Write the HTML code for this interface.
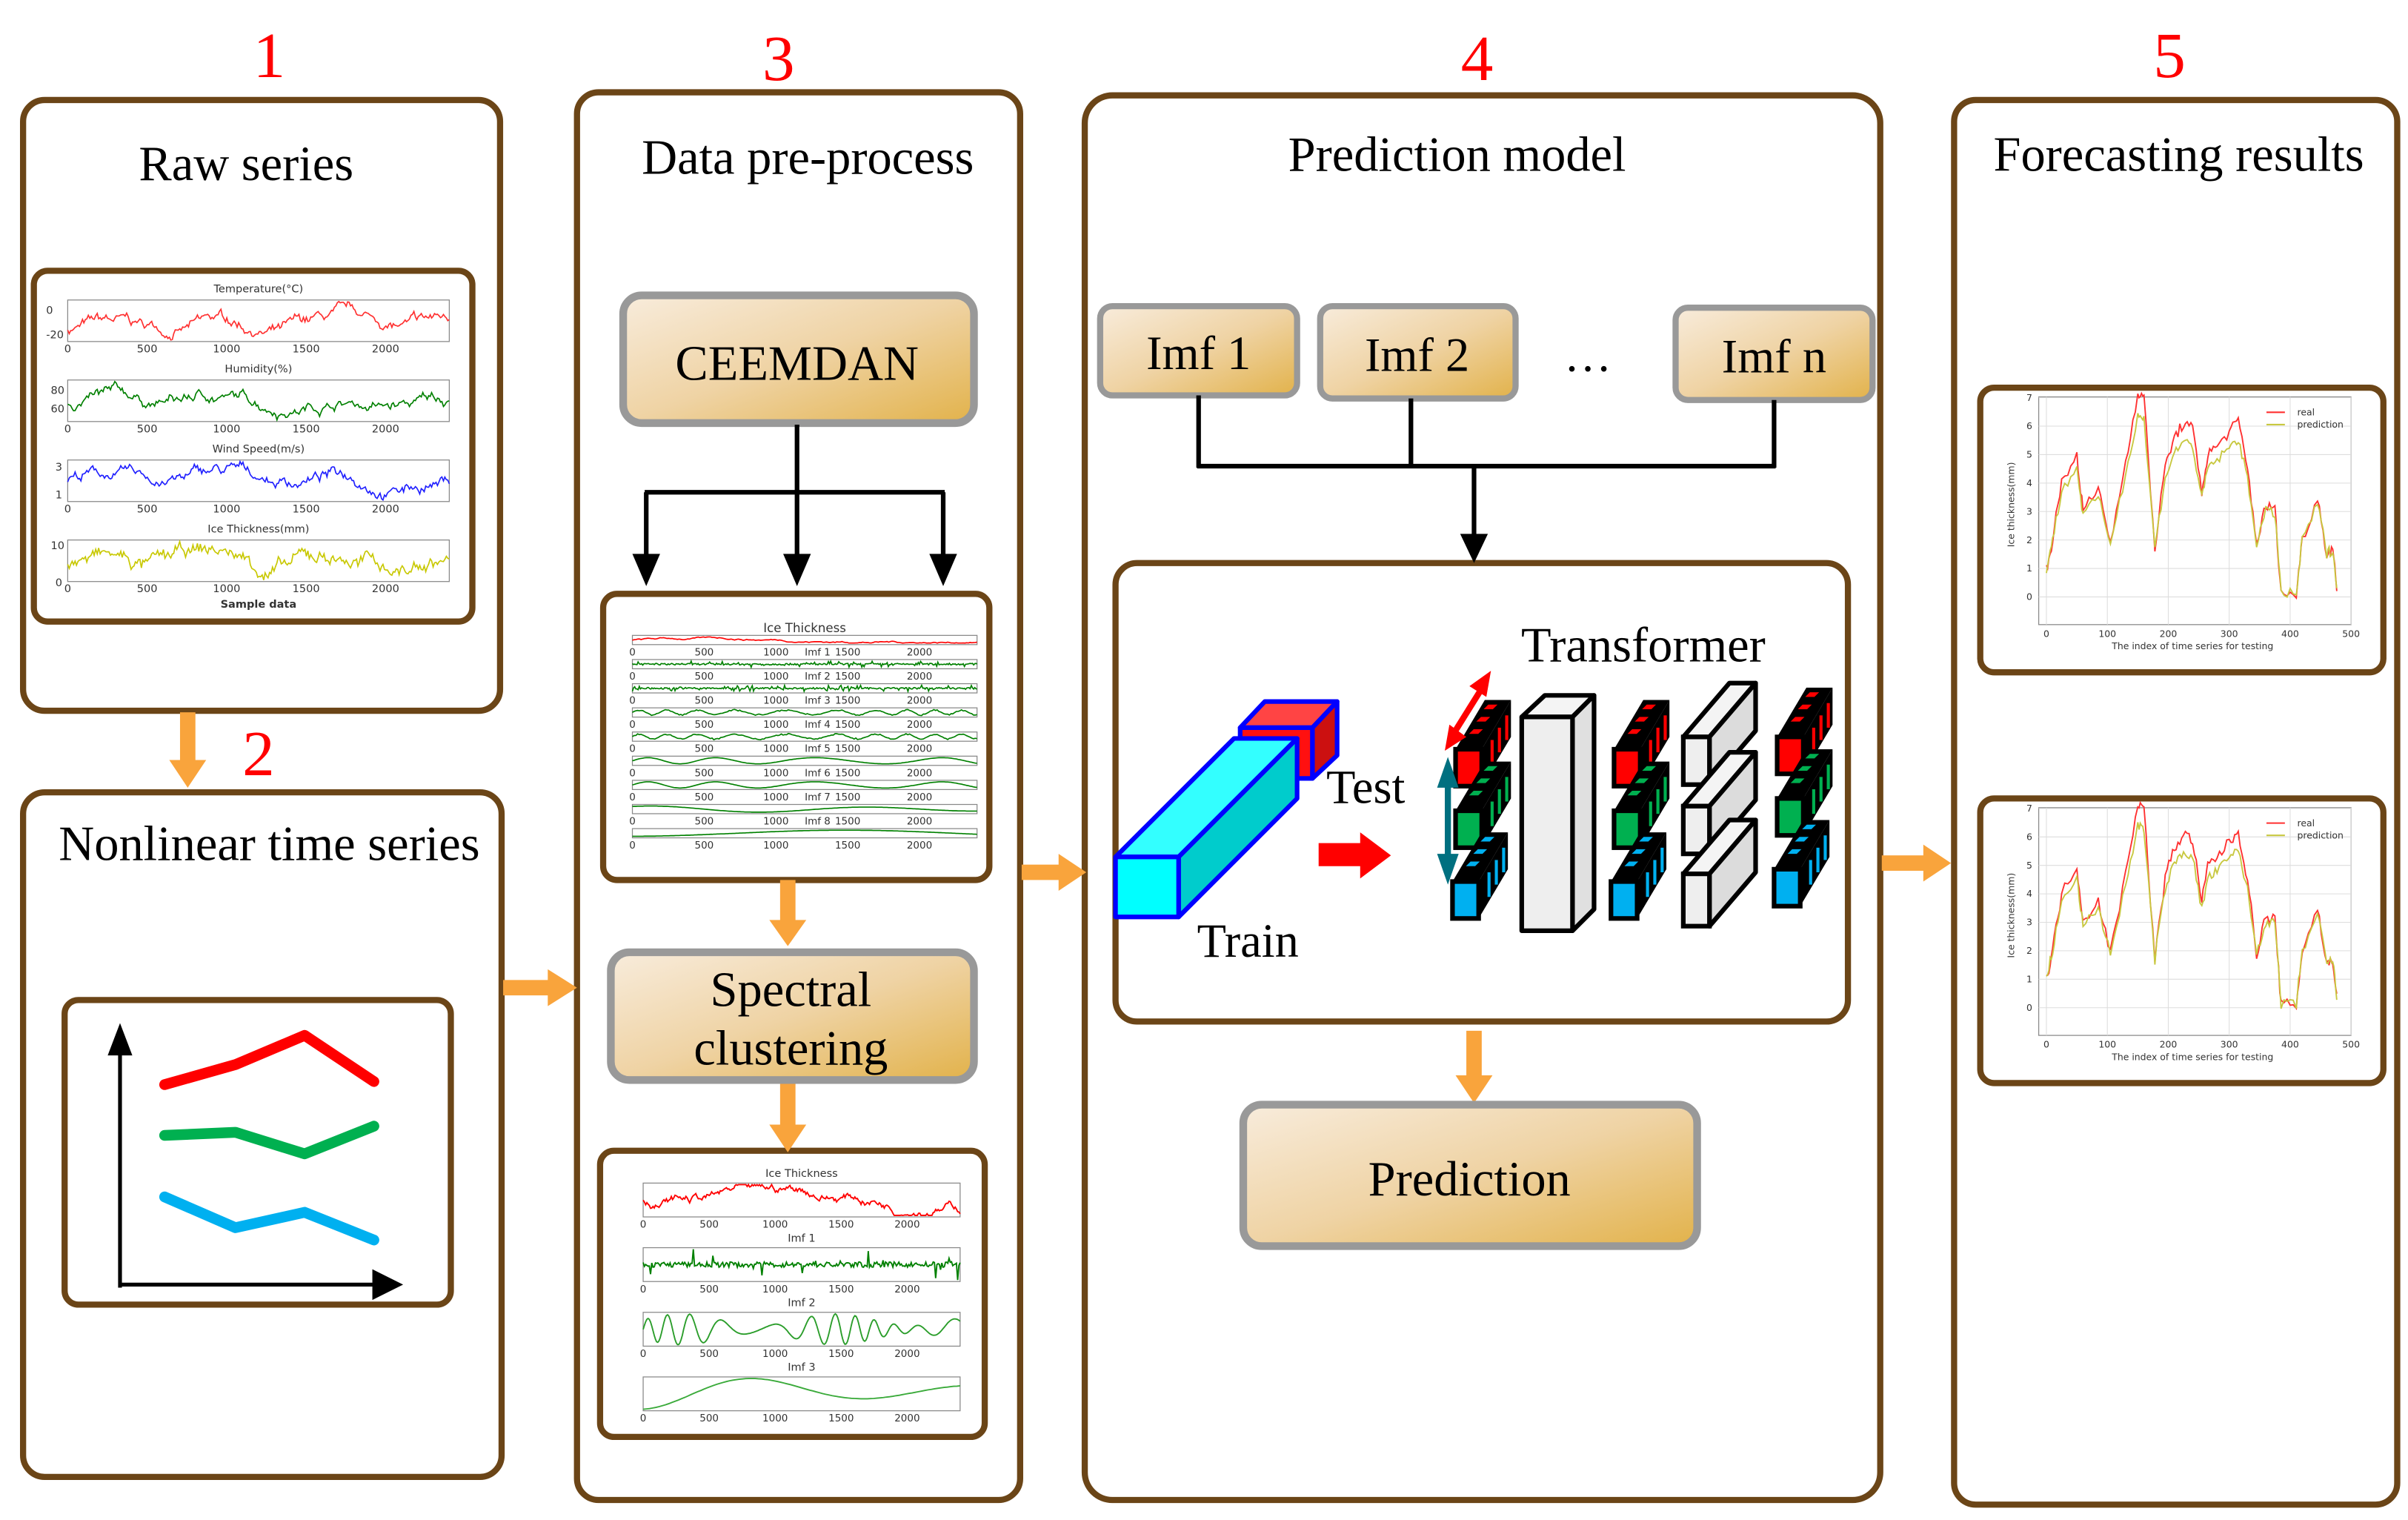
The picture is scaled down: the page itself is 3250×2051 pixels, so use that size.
<!DOCTYPE html>
<html><head><meta charset="utf-8"><style>
html,body{margin:0;padding:0;background:#fff;}
svg{display:block;}
.t{font-family:"Liberation Serif",serif;fill:#000;}
.s{font-family:"DejaVu Sans","Liberation Sans",sans-serif;fill:#333;}
</style></head><body>
<svg id="S" width="3250" height="2051" viewBox="0 0 1565 988" preserveAspectRatio="none" xmlns="http://www.w3.org/2000/svg">
<defs>
<linearGradient id="g" x1="0" y1="0" x2="1" y2="1">
<stop offset="0" stop-color="#f8ecdc"/><stop offset="0.5" stop-color="#efd3a4"/><stop offset="1" stop-color="#e2b24a"/>
</linearGradient>
</defs>
<g fill="none" stroke="#6b4517" stroke-width="4">
<rect x="15" y="65" width="310" height="397" rx="14"/>
<rect x="22" y="176" width="285" height="228" rx="9"/>
<rect x="15" y="515" width="311" height="445" rx="14"/>
<rect x="42" y="650" width="251" height="198" rx="9"/>
<rect x="375" y="60" width="288" height="915" rx="14"/>
<rect x="392" y="386" width="251" height="186" rx="9"/>
<rect x="390" y="748" width="250" height="186" rx="9"/>
<rect x="705" y="62" width="517" height="913" rx="18"/>
<rect x="725" y="366" width="476" height="298" rx="14"/>
<rect x="1270" y="65" width="288" height="913" rx="14"/>
<rect x="1287" y="252" width="262" height="185" rx="9"/>
<rect x="1287" y="519" width="262" height="185" rx="9"/>
</g>
<g fill="#ff0000" font-family="Liberation Serif,serif" font-size="42" text-anchor="middle">
<text x="175" y="50">1</text><text x="168" y="504">2</text><text x="506" y="52">3</text><text x="960" y="52">4</text><text x="1410" y="50">5</text>
</g>
<g class="t" font-size="32" text-anchor="middle">
<text x="160" y="117">Raw series</text>
<text x="175" y="559">Nonlinear time series</text>
<text x="525" y="113">Data pre-process</text>
<text x="947" y="111">Prediction model</text>
<text x="1416" y="111">Forecasting results</text>
</g>
<g fill="#f9a43c">
<rect x="117" y="463" width="10" height="32"/><polygon points="110,494 134,494 122,512"/>
<rect x="327" y="637" width="30" height="10"/><polygon points="356,630 356,654 375,642"/>
<rect x="507" y="572" width="10" height="28"/><polygon points="500,598 524,598 512,615"/>
<rect x="507" y="703" width="10" height="30"/><polygon points="500,731 524,731 512,749"/>
<rect x="664" y="562" width="25" height="10"/><polygon points="688,555 688,579 706,567"/>
<rect x="953" y="670" width="10" height="30"/><polygon points="946,699 970,699 958,717"/>
<rect x="1223" y="556" width="28" height="10"/><polygon points="1250,549 1250,573 1268,561"/>
</g>
<g stroke="#000" stroke-width="2.5" fill="none"><line x1="78" y1="682" x2="78" y2="837"/><line x1="78" y1="835" x2="245" y2="835"/></g>
<polygon points="78,665 70,686 86,686"/><polygon points="262,835 242,825 242,845"/>
<g fill="none" stroke-width="7" stroke-linecap="round" stroke-linejoin="round">
<polyline stroke="#ff0000" points="107,705 153,692 198,673 243,703"/>
<polyline stroke="#00b050" points="107,738 153,736 198,750 243,732"/>
<polyline stroke="#00b0f0" points="107,778 153,798 198,788 243,806"/>
</g>
<rect x="405" y="192" width="228" height="83" rx="12" fill="url(#g)" stroke="#999" stroke-width="5"/>
<text class="t" x="518" y="247" font-size="32" text-anchor="middle">CEEMDAN</text>
<g stroke="#000" stroke-width="3" fill="none"><line x1="518" y1="276" x2="518" y2="320"/><line x1="419" y1="320" x2="614" y2="320"/>
<line x1="420" y1="320" x2="420" y2="362"/><line x1="518" y1="320" x2="518" y2="362"/><line x1="613" y1="320" x2="613" y2="362"/></g>
<polygon points="411,360 429,360 420,381"/><polygon points="509,360 527,360 518,381"/><polygon points="604,360 622,360 613,381"/>
<rect x="397" y="619" width="236" height="83" rx="12" fill="url(#g)" stroke="#999" stroke-width="5"/>
<text class="t" x="514" y="654" font-size="32" text-anchor="middle">Spectral</text>
<text class="t" x="514" y="692" font-size="32" text-anchor="middle">clustering</text>
<g stroke="#999" stroke-width="4" fill="url(#g)">
<rect x="715" y="199" width="128" height="58" rx="8"/><rect x="858" y="199" width="127" height="60" rx="8"/><rect x="1089" y="200" width="128" height="60" rx="8"/>
</g>
<g class="t" font-size="31" text-anchor="middle"><text x="779" y="240">Imf 1</text><text x="921" y="241">Imf 2</text><text x="1153" y="242">Imf n</text><text x="1032" y="241">…</text></g>
<g stroke="#000" stroke-width="3" fill="none"><line x1="779" y1="257" x2="779" y2="304"/><line x1="917" y1="259" x2="917" y2="304"/><line x1="1153" y1="260" x2="1153" y2="304"/><line x1="778" y1="303" x2="1154" y2="303"/><line x1="958" y1="303" x2="958" y2="350"/></g>
<polygon points="949,347 967,347 958,366"/>
<g stroke="#0000ff" stroke-width="3" stroke-linejoin="round">
<polygon fill="#ff4444" points="806,473 822,456 869,456 853,473"/>
<rect x="806" y="473" width="47" height="33" fill="#ff1010"/>
<polygon fill="#cc1010" points="853,473 869,456 869,491 853,506"/>
<polygon fill="#33ffff" points="725,557 802,480 843,480 766,557"/>
<polygon fill="#00cccc" points="766,557 843,480 843,519 766,596"/>
<rect x="725" y="557" width="41" height="39" fill="#00ffff"/>
</g>
<text class="t" x="862" y="522" font-size="31">Test</text>
<text class="t" x="778" y="622" font-size="31">Train</text>
<polygon fill="#ff0000" points="857,548 884,548 884,541 904,556 884,571 884,563 857,563"/>
<text class="t" x="1068" y="430" font-size="32" text-anchor="middle">Transformer</text>
<g id="stacks"></g>
<g stroke="#000" stroke-width="3" stroke-linejoin="round">
<polygon fill="#f4f4f4" points="989,466 1004,452 1036,452 1022,466"/>
<polygon fill="#e0e0e0" points="1022,466 1036,452 1036,591 1022,605"/>
<rect x="989" y="466" width="33" height="139" fill="#eeeeee"/>
</g>
<g id="wb"></g>
<g stroke="#007080" stroke-width="4"><line x1="941" y1="505" x2="941" y2="560"/></g>
<polygon fill="#007080" points="941,492 934,512 948,512"/><polygon fill="#007080" points="941,575 934,555 948,555"/>
<g stroke="#ff0000" stroke-width="4"><line x1="944" y1="478" x2="964" y2="446"/></g>
<polygon fill="#ff0000" points="969,436 955,446 966,453"/><polygon fill="#ff0000" points="939,488 942,471 953,479"/>
<rect x="808" y="718" width="295" height="92" rx="12" fill="url(#g)" stroke="#999" stroke-width="5"/>
<text class="t" x="955" y="777" font-size="32" text-anchor="middle">Prediction</text>
<g id="charts"></g>
</svg>
<script>
var NS="http://www.w3.org/2000/svg";
function el(p,tag,a,txt){var e=document.createElementNS(NS,tag);for(var k in a)e.setAttribute(k,a[k]);if(txt!==undefined)e.textContent=txt;p.appendChild(e);return e;}
var C=document.getElementById('charts');
var seed=7;function rnd(){seed=(seed*16807)%2147483647;return seed/2147483647;}
function series(n,kind){var v=[];var a=0;for(var i=0;i<n;i++){var t=i/n;var y;
 if(kind=='rw'){a+= (rnd()-0.5)*0.5;a*=0.97;y=a+Math.sin(t*20)*0.3+(rnd()-0.5)*0.3;}
 else if(kind=='hf'){y=(rnd()-0.5)*(rnd()<0.2?2:0.5);}
 else if(kind=='w1'){y=Math.sin(t*60+Math.sin(t*7)*3)*(0.4+0.4*rnd());}
 else if(kind=='w1n'){y=(rnd()-0.5)*(0.4+(rnd()<0.08?2:0));}
 else if(kind=='w2'){y=Math.sin(t*25+Math.sin(t*5)*2)*0.8;}
 else if(kind=='w2n'){y=Math.sin(t*70+Math.sin(t*9)*4)*(0.5+0.3*Math.sin(t*13));}
 else if(kind=='w3'){y=Math.sin(t*10+1)*0.8*(1-t*0.5);}
 else if(kind=='w3b'){y=Math.sin(t*9-1.6)*Math.exp(-t*1.2)+0.1;}
 else if(kind=='w4'){y=Math.sin(t*5-1.5)*0.8;}
 else if(kind=='ice'){a+=(rnd()-0.5)*0.35;a=Math.max(-0.9,Math.min(0.9,a));y=a;}
 v.push(y);}return v;}
function plot(x,y,w,h,col,kind,n,sw){el(C,'rect',{x:x,y:y,width:w,height:h,fill:'none',stroke:'#888','stroke-width':0.6});
 var v=series(n,kind),mn=Math.min.apply(0,v),mx=Math.max.apply(0,v),p=[];
 for(var i=0;i<n;i++)p.push((x+i*w/(n-1)).toFixed(1)+','+(y+h-1-(v[i]-mn)/(mx-mn||1)*(h-2)).toFixed(1));
 el(C,'polyline',{points:p.join(' '),fill:'none',stroke:col,'stroke-width':sw||0.7});}
function ticks(x,y,w,fs,labs){for(var i=0;i<labs.length;i++)el(C,'text',{x:x+i*w*0.833/(labs.length-1),y:y,'font-size':fs,'text-anchor':'middle',class:'s'},labs[i]);}
var L=['0','500','1000','1500','2000'];
var t1=[['Temperature(°C)','#ff3030',190],['Humidity(%)','#008000',242],['Wind Speed(m/s)','#2020ff',294],['Ice Thickness(mm)','#c8c800',346]];
t1.forEach(function(r){el(C,'text',{x:168,y:r[2],'font-size':7,'text-anchor':'middle',class:'s'},r[0]);plot(44,r[2]+5,248,27,r[1],'rw',260,0.8);ticks(44,r[2]+39,248,7,L);});
el(C,'text',{x:30,y:204,'font-size':7,class:'s'},'0');el(C,'text',{x:30,y:220,'font-size':7,class:'s'},'-20');
el(C,'text',{x:33,y:256,'font-size':7,class:'s'},'80');el(C,'text',{x:33,y:268,'font-size':7,class:'s'},'60');
el(C,'text',{x:36,y:306,'font-size':7,class:'s'},'3');el(C,'text',{x:36,y:324,'font-size':7,class:'s'},'1');
el(C,'text',{x:33,y:357,'font-size':7,class:'s'},'10');el(C,'text',{x:36,y:381,'font-size':7,class:'s'},'0');
el(C,'text',{x:168,y:395,'font-size':7,'font-weight':'bold','text-anchor':'middle',class:'s'},'Sample data');
el(C,'text',{x:523,y:411,'font-size':8,'text-anchor':'middle',class:'s'},'Ice Thickness');
var kinds=['ice','hf','hf','w1','w1','w2','w2','w3','w4'];
for(var i=0;i<9;i++){var yy=413+i*15.7;plot(411,yy,224,6,i==0?'#ff0000':'#008000',kinds[i],kinds[i]=='hf'?300:200,0.8);ticks(411,yy+13,224,6.5,L);if(i<8)el(C,'text',{x:523,y:yy+13,'font-size':6.5,'text-anchor':'start',class:'s'},'Imf '+(i+1));}
var c2=[['Ice Thickness','#ff0000','ice',763],['Imf 1','#008000','w1n',805],['Imf 2','#2a9d2a','w2n',847],['Imf 3','#3aaa3a','w3b',889]];
c2.forEach(function(r){el(C,'text',{x:521,y:r[3]+2,'font-size':7,'text-anchor':'middle',class:'s'},r[0]);plot(418,r[3]+6,206,22,r[1],r[2],r[2]=='w3b'?100:260,0.9);ticks(418,r[3]+35,206,6.5,L);});
[258,525].forEach(function(y0){
 var x=1325,w=203,h=148;el(C,'rect',{x:x,y:y0,width:w,height:h,fill:'none',stroke:'#888','stroke-width':0.6});
 for(var k=0;k<8;k++)el(C,'line',{x1:x,x2:x+w,y1:y0+h-18-k*18.5,y2:y0+h-18-k*18.5,stroke:'#ddd','stroke-width':0.5});
 for(var k=0;k<6;k++){el(C,'line',{x1:x+5+k*39.6,x2:x+5+k*39.6,y1:y0,y2:y0+h,stroke:'#ddd','stroke-width':0.5});el(C,'text',{x:x+5+k*39.6,y:y0+h+8,'font-size':6,'text-anchor':'middle',class:'s'},String(k*100));}
 for(var k=0;k<8;k++)el(C,'text',{x:x-8,y:y0+h-16-k*18.5,'font-size':6,class:'s'},String(k));
 el(C,'text',{x:x+100,y:y0+h+16,'font-size':6,'text-anchor':'middle',class:'s'},'The index of time series for testing');
 el(C,'text',{x:0,y:0,'font-size':6,'text-anchor':'middle',class:'s',transform:'translate('+(x-16)+','+(y0+70)+') rotate(-90)'},'Ice thickness(mm)');
 var pts=[[0,1],[10,2],[25,4],[50,5],[60,3],[85,3.8],[105,1.9],[130,4.7],[150,7.2],[160,7],[178,1.7],[195,4.6],[210,5.6],[225,6.1],[240,5.9],[255,3.7],[265,5],[280,5.3],[300,5.8],[315,6.2],[330,4.5],[345,1.9],[360,3.2],[375,3.1],[385,0.1],[410,0.1],[420,2],[445,3.5],[460,1.5],[470,1.7],[478,0]];
 function mk(sc){var p=[];for(var j=0;j<pts.length-1;j++){for(var s=0;s<5;s++){var t=s/5,ix=pts[j][0]+(pts[j+1][0]-pts[j][0])*t,iv=pts[j][1]+(pts[j+1][1]-pts[j][1])*t+(rnd()-0.5)*0.4;var vv=iv>2?2+(iv-2)*sc:iv;p.push((x+5+ix*0.396).toFixed(1)+','+(y0+h-18-vv*18.5).toFixed(1));}}return p.join(' ');}
 el(C,'polyline',{points:mk(1),fill:'none',stroke:'#ff3030','stroke-width':0.9});
 el(C,'polyline',{points:mk(0.85),fill:'none',stroke:'#c8c840','stroke-width':0.9});
 el(C,'line',{x1:x+148,x2:x+160,y1:y0+10,y2:y0+10,stroke:'#ff3030'});el(C,'line',{x1:x+148,x2:x+160,y1:y0+18,y2:y0+18,stroke:'#c8c840'});
 el(C,'text',{x:x+168,y:y0+12,'font-size':6,class:'s'},'real');el(C,'text',{x:x+168,y:y0+20,'font-size':6,class:'s'},'prediction');
});
var G=document.getElementById('stacks');
function block(x,y,fc){var dx=19,dy=-32,w=17,h=24;
 el(G,'polygon',{points:[x,y,x+dx,y+dy,x+dx+w,y+dy,x+w,y].join(','),fill:'#000'});
 el(G,'polygon',{points:[x+w,y,x+w+dx,y+dy,x+w+dx,y+dy+h,x+w,y+h].join(','),fill:'#000'});
 for(var k=1;k<4;k++){var ox=x+k*dx/4+4,oy=y+k*dy/4-2;el(G,'polygon',{points:[ox,oy,ox+3,oy-3,ox+9,oy-3,ox+6,oy].join(','),fill:fc});
  el(G,'rect',{x:x+w+1+k*dx/4,y:y+2+k*dy/4,width:2,height:h-8,fill:fc});}
 el(G,'rect',{x:x,y:y,width:w,height:h,fill:fc,stroke:'#000','stroke-width':3});}
[[946,0],[1049,0],[1155,-8]].forEach(function(s){var x=s[0],o=s[1];
 block(x,487+o,'#ff0000');block(x,527+o,'#00b050');block(x-2,573+o,'#00b0f0');});
var W=document.getElementById('wb');
[[479,510],[524,555],[568,602]].forEach(function(r){var x=1094,w=17,y=r[0],h=r[1]-r[0],dx=30,dy=-35;
 el(W,'polygon',{points:[x,y,x+dx,y+dy,x+dx+w,y+dy,x+w,y].join(','),fill:'#f4f4f4',stroke:'#000','stroke-width':3,'stroke-linejoin':'round'});
 el(W,'polygon',{points:[x+w,y,x+w+dx,y+dy,x+w+dx,y+dy+h,x+w,y+h].join(','),fill:'#dcdcdc',stroke:'#000','stroke-width':3,'stroke-linejoin':'round'});
 el(W,'rect',{x:x,y:y,width:w,height:h,fill:'#eeeeee',stroke:'#000','stroke-width':3});});
</script>
</body></html>
